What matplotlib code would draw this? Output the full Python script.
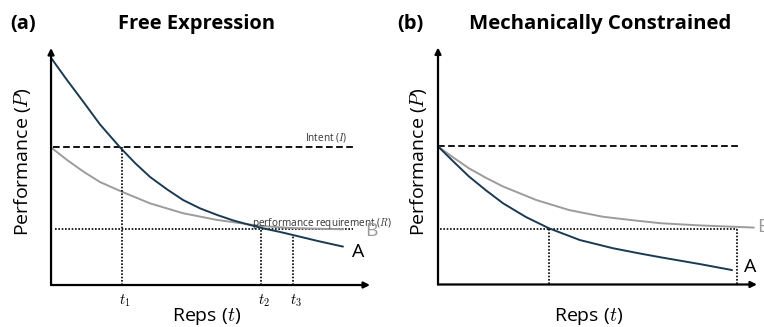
import matplotlib
matplotlib.use("Agg")
import matplotlib.pyplot as plt

plt.rcParams['font.family'] = ['Open Sans', 'DejaVu Sans']
plt.rcParams['mathtext.fontset'] = 'cm'

# ---- data (t = reps, P = performance) ----
intent_level = 5.75
requirement_level = 2.33
t_max = 10.63
p_max = 9.87

# panel (a): free expression
a_A_t = [0.00, 0.53, 1.07, 1.63, 2.30, 2.80, 3.30, 3.87, 4.40, 4.97, 5.53, 6.07,
         6.63, 7.07, 7.63, 8.07, 8.90, 9.73]
a_A_p = [9.46, 8.54, 7.64, 6.69, 5.73, 5.08, 4.50, 3.98, 3.54, 3.19, 2.92, 2.69,
         2.50, 2.36, 2.21, 2.08, 1.83, 1.60]
a_B_t = [0.00, 0.53, 1.07, 1.63, 2.37, 3.30, 4.40, 5.53, 6.63, 7.07, 8.07, 9.73]
a_B_p = [5.73, 5.21, 4.73, 4.29, 3.88, 3.40, 2.99, 2.71, 2.52, 2.45, 2.37, 2.32]
a_marks_t = [2.36, 6.99, 8.07]
a_marks_top = [5.75, 2.33, 2.08]
a_mark_labels = ['$t_1$', '$t_2$', '$t_3$']

# panel (b): mechanically constrained
b_A_t = [0.00, 0.53, 1.03, 1.60, 2.17, 2.93, 3.70, 4.73, 5.83, 6.73, 7.43, 8.73, 9.80]
b_A_p = [5.75, 5.10, 4.50, 3.92, 3.38, 2.81, 2.34, 1.85, 1.51, 1.29, 1.13, 0.85, 0.60]
b_B_t = [0.00, 0.53, 1.03, 1.60, 2.17, 3.27, 4.37, 5.50, 6.60, 7.43, 8.73, 10.53]
b_B_p = [5.75, 5.27, 4.84, 4.44, 4.08, 3.52, 3.10, 2.82, 2.66, 2.55, 2.46, 2.37]
b_marks_t = [3.71, 9.98]
b_marks_top = [2.33, 2.33]

color_A = '#1b3a52'
color_B = '#9c9c9c'


def draw_frame(ax):
    ax.set_xlim(0, t_max)
    ax.set_ylim(0, p_max)
    ax.axis('off')
    arrow = dict(arrowstyle='-|>', lw=1.6, color='black', mutation_scale=9,
                 shrinkA=0, shrinkB=0)
    ax.annotate('', xy=(t_max, 0), xytext=(0, 0), arrowprops=arrow, annotation_clip=False)
    ax.annotate('', xy=(0, p_max), xytext=(0, 0), arrowprops=arrow, annotation_clip=False)


fig = plt.figure(figsize=(7.64, 3.27), dpi=100)
ax_a = fig.add_axes([0.0668, 0.1284, 0.4175, 0.7248])
ax_b = fig.add_axes([0.5733, 0.1300, 0.4175, 0.7248])

dash = (0, (3.7, 1.9))
dot = (0, (1, 1))

# (a)
draw_frame(ax_a)
ax_a.plot([0.07, 10.07], [intent_level, intent_level], color='black', lw=1.3, linestyle=dash)
ax_a.plot([0.13, 10.07], [requirement_level, requirement_level], color='black', lw=1.2, linestyle=dot)
ax_a.plot(a_B_t, a_B_p, color=color_B, lw=1.4, solid_capstyle='round', solid_joinstyle='round')
ax_a.plot(a_A_t, a_A_p, color=color_A, lw=1.4, solid_capstyle='round', solid_joinstyle='round')
for t, top, lab in zip(a_marks_t, a_marks_top, a_mark_labels):
    ax_a.plot([t, t], [0, top], color='black', lw=1.2, linestyle=dot)
    ax_a.text(t + 0.1, -0.65, lab, ha='center', va='center', fontsize=10.5)
ax_a.text(8.47, 6.15, 'Intent ($I$)', ha='left', va='center', fontsize=7.2, color='#333333')
ax_a.text(6.7, 2.55, 'performance requirement ($R$)', ha='left', va='center',
          fontsize=7.2, color='#333333', clip_on=False)
ax_a.text(10.23, 1.37, 'A', ha='center', va='center', fontsize=14, color='black')
ax_a.text(10.68, 2.25, 'B', ha='center', va='center', fontsize=14, color=color_B)

# (b)
draw_frame(ax_b)
ax_b.plot([0.0, 10.07], [intent_level, intent_level], color='black', lw=1.3, linestyle=dash)
ax_b.plot([0.05, 9.97], [requirement_level, requirement_level], color='black', lw=1.2, linestyle=dot)
ax_b.plot(b_B_t, b_B_p, color=color_B, lw=1.4, solid_capstyle='round', solid_joinstyle='round',
          clip_on=False)
ax_b.plot(b_A_t, b_A_p, color=color_A, lw=1.4, solid_capstyle='round', solid_joinstyle='round')
for t, top in zip(b_marks_t, b_marks_top):
    ax_b.plot([t, t], [0, top], color='black', lw=1.2, linestyle=dot)
ax_b.text(10.4, 0.74, 'A', ha='center', va='center', fontsize=14, color='black')
ax_b.text(10.83, 2.4, 'B', ha='center', va='center', fontsize=14, color=color_B, clip_on=False)

# axis labels
for x in (0.030, 0.548):
    fig.text(x, 0.505, 'Performance ($P$)', rotation=90, ha='center', va='center', fontsize=14)
for x in (0.270, 0.770):
    fig.text(x, 0.033, 'Reps ($t$)', ha='center', va='center', fontsize=14)

# titles
fig.text(0.013, 0.926, '(a)', ha='left', va='center', fontsize=14.5, fontweight='bold')
fig.text(0.257, 0.926, 'Free Expression', ha='center', va='center', fontsize=14.5, fontweight='bold')
fig.text(0.520, 0.926, '(b)', ha='left', va='center', fontsize=14.5, fontweight='bold')
fig.text(0.785, 0.926, 'Mechanically Constrained', ha='center', va='center', fontsize=14.7,
         fontweight='bold')

fig.savefig('out.png', dpi=100)
